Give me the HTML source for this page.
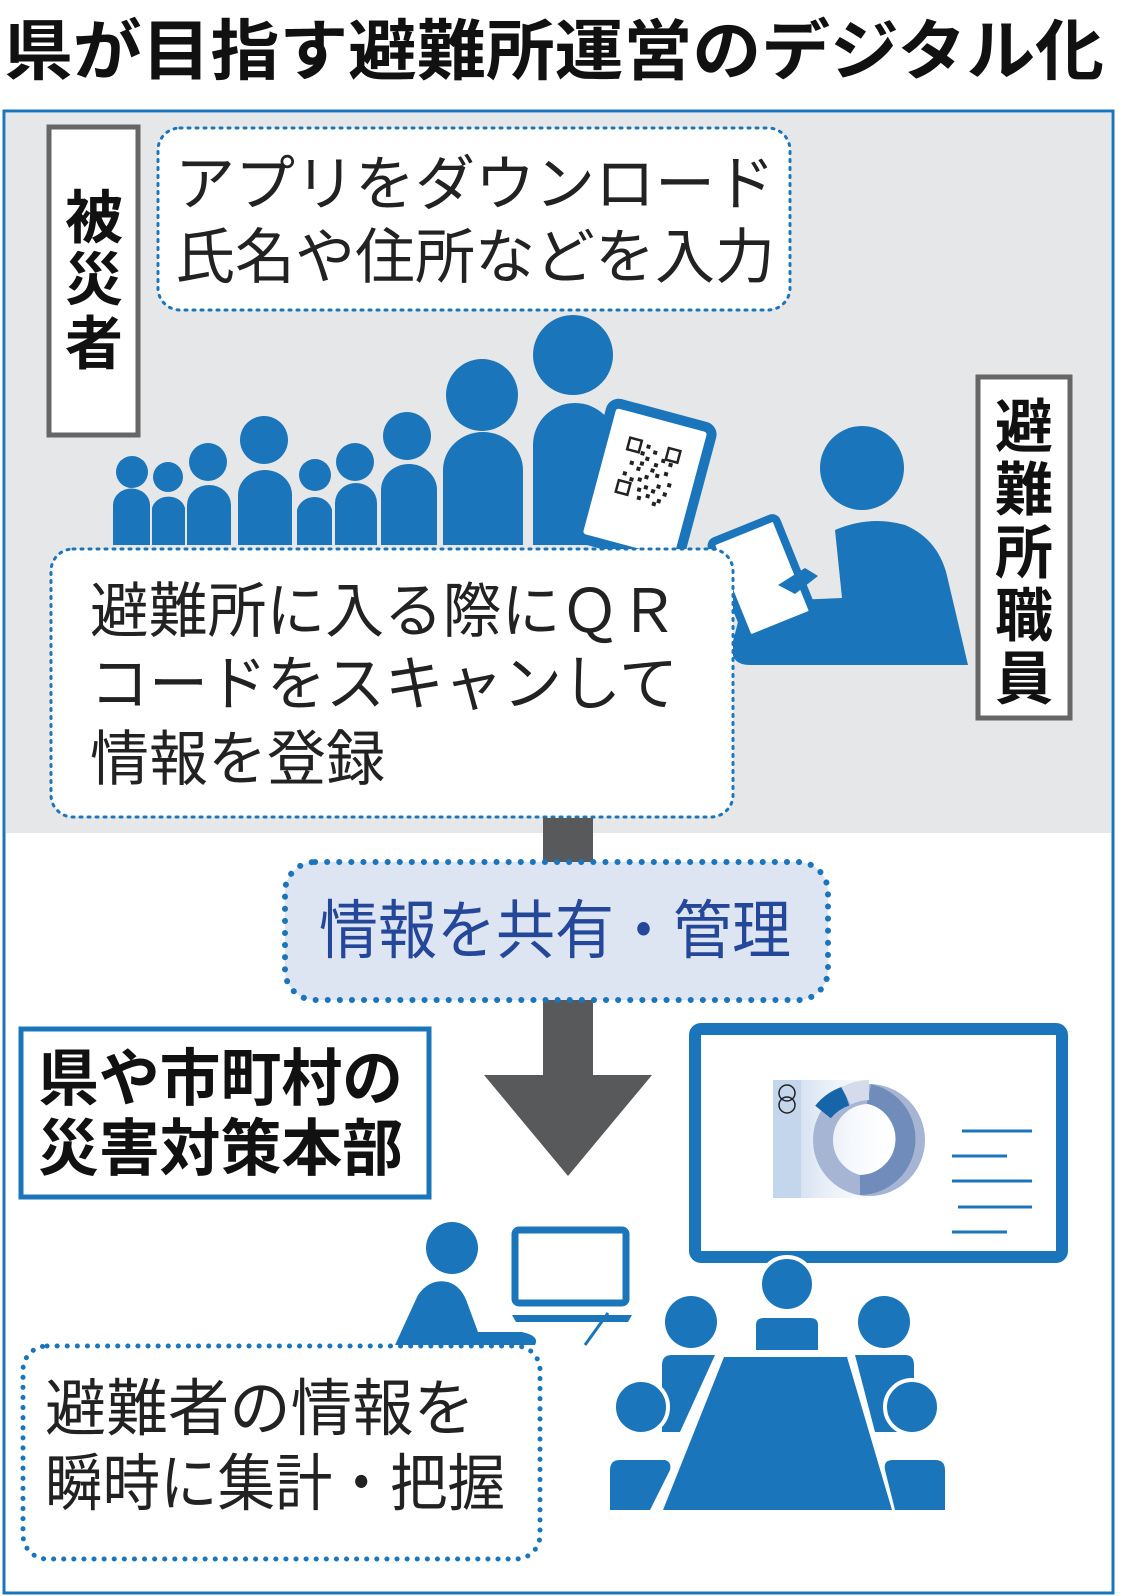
<!DOCTYPE html>
<html><head><meta charset="utf-8">
<style>
html,body{margin:0;padding:0;background:#fff;}
svg{display:block;}
text{font-family:"Liberation Sans","Noto Sans CJK JP",sans-serif;}
</style></head>
<body>
<svg width="1131" height="1596" viewBox="0 0 1131 1596" xmlns="http://www.w3.org/2000/svg">
<text x="4" y="74" font-size="66" font-weight="bold" fill="#111" textLength="1100" lengthAdjust="spacingAndGlyphs">県が目指す避難所運営のデジタル化</text>
<rect x="4" y="111" width="1109" height="1482" fill="#fff" stroke="#1b75bb" stroke-width="3"/>
<rect x="6" y="113" width="1105" height="720" fill="#e6e7e8"/>

<rect x="49" y="127" width="89" height="308" fill="#fff" stroke="#666" stroke-width="5"/>
<g font-size="58" font-weight="bold" fill="#111" text-anchor="middle">
<text x="94" y="238">被</text><text x="94" y="300">災</text><text x="94" y="364">者</text>
</g>

<rect x="158" y="128" width="632" height="182" rx="22" fill="#fff" stroke="#1b75bb" stroke-width="3" stroke-dasharray="2 6" stroke-linecap="round"/>
<g font-size="60" fill="#222">
<text x="175" y="205" textLength="600" lengthAdjust="spacingAndGlyphs">アプリをダウンロード</text>
<text x="175" y="278" textLength="600" lengthAdjust="spacingAndGlyphs">氏名や住所などを入力</text>
</g>

<g fill="#1b75bb">
<circle cx="132" cy="472" r="16"/><path d="M113 545 V505 a18 16 0 0 1 37 0 V545Z"/>
<circle cx="168" cy="477" r="15"/><path d="M152 545 V508 a17 15 0 0 1 33 0 V545Z"/>
<circle cx="208" cy="462" r="19"/><path d="M187 545 V505 a22 20 0 0 1 44 0 V545Z"/>
<circle cx="264" cy="440" r="24"/><path d="M238 545 V495 a27 25 0 0 1 54 0 V545Z"/>
<circle cx="315" cy="475" r="16"/><path d="M297 545 V510 a18 17 0 0 1 35 0 V545Z"/>
<circle cx="355" cy="462" r="19"/><path d="M335 545 V503 a21 20 0 0 1 42 0 V545Z"/>
<circle cx="407" cy="436" r="24"/><path d="M381 545 V490 a28 26 0 0 1 56 0 V545Z"/>
<circle cx="482" cy="395" r="36"/><path d="M443 545 V470 a40 38 0 0 1 80 0 V545Z"/>
<circle cx="573" cy="355" r="40"/><path d="M533 545 V445 a42 42 0 0 1 84 0 V545Z"/>
</g>
<g transform="translate(645 483) rotate(15)">
<rect x="-52" y="-70" width="104" height="140" rx="8" fill="#fff" stroke="#1b75bb" stroke-width="10"/>
<g fill="#222">
<rect x="-26" y="-40" width="12" height="12" fill="none" stroke="#222" stroke-width="2.5"/>
<rect x="14" y="-40" width="12" height="12" fill="none" stroke="#222" stroke-width="2.5"/>
<rect x="-26" y="4" width="12" height="12" fill="none" stroke="#222" stroke-width="2.5"/>
<rect x="-8" y="-38" width="4" height="4"/><rect x="0" y="-34" width="4" height="4"/><rect x="-6" y="-26" width="4" height="4"/>
<rect x="4" y="-22" width="4" height="4"/><rect x="-20" y="-18" width="4" height="4"/><rect x="-12" y="-14" width="4" height="4"/>
<rect x="8" y="-12" width="4" height="4"/><rect x="16" y="-16" width="4" height="4"/><rect x="-2" y="-8" width="4" height="4"/>
<rect x="12" y="-2" width="4" height="4"/><rect x="20" y="4" width="4" height="4"/><rect x="-6" y="6" width="4" height="4"/>
<rect x="4" y="10" width="4" height="4"/><rect x="16" y="12" width="4" height="4"/><rect x="-24" y="-6" width="4" height="4"/>
<rect x="-16" y="-2" width="4" height="4"/><rect x="0" y="2" width="4" height="4"/><rect x="22" y="-6" width="4" height="4"/>
<rect x="-10" y="-20" width="4" height="4"/><rect x="2" y="-16" width="4" height="4"/><rect x="10" y="-28" width="4" height="4"/>
<rect x="-4" y="14" width="4" height="4"/><rect x="8" y="4" width="4" height="4"/><rect x="-12" y="-30" width="4" height="4"/>
<rect x="18" y="-26" width="4" height="4"/><rect x="-8" y="-4" width="4" height="4"/><rect x="12" y="16" width="4" height="4"/>
</g>
</g>

<g fill="#1b75bb">
<circle cx="862" cy="468" r="42"/>
<path d="M835 530 Q870 515 905 525 Q940 540 948 580 L968 665 H750 Q730 665 732 645 L738 622 L795 600 L842 598 Z"/>
</g>
<g transform="translate(762 578) rotate(-22)">
<rect x="-35" y="-52" width="70" height="104" rx="5" fill="#fff" stroke="#1b75bb" stroke-width="8"/>
</g>
<path d="M778 585 L805 568 L818 576 L795 594Z" fill="#1b75bb"/>

<rect x="978" y="377" width="92" height="341" fill="#fff" stroke="#666" stroke-width="5"/>
<g font-size="58" font-weight="bold" fill="#111" text-anchor="middle">
<text x="1024" y="447">避</text><text x="1024" y="510">難</text><text x="1024" y="573">所</text><text x="1024" y="636">職</text><text x="1024" y="699">員</text>
</g>

<rect x="51" y="549" width="682" height="268" rx="22" fill="#fff" stroke="#1b75bb" stroke-width="3" stroke-dasharray="2 6" stroke-linecap="round"/>
<g font-size="60" fill="#222">
<text x="90" y="632" textLength="588" lengthAdjust="spacingAndGlyphs">避難所に入る際にＱＲ</text>
<text x="90" y="705" textLength="588" lengthAdjust="spacingAndGlyphs">コードをスキャンして</text>
<text x="90" y="780" textLength="295" lengthAdjust="spacingAndGlyphs">情報を登録</text>
</g>

<rect x="543" y="818" width="50" height="45" fill="#58595b"/>
<path d="M543 1000 H593 V1075 H652 L568 1176 L484 1075 H543Z" fill="#58595b"/>

<rect x="285" y="862" width="543" height="138" rx="30" fill="#dde4f2" stroke="#1b75bb" stroke-width="6" stroke-dasharray="0.1 12" stroke-linecap="round"/>
<text x="555" y="953" font-size="64" fill="#24479a" text-anchor="middle" textLength="472" lengthAdjust="spacingAndGlyphs">情報を共有・管理</text>

<rect x="21" y="1029" width="408" height="168" fill="#fff" stroke="#1b75bb" stroke-width="5"/>
<g font-size="62" font-weight="bold" fill="#111">
<text x="38" y="1100" textLength="365" lengthAdjust="spacingAndGlyphs">県や市町村の</text>
<text x="38" y="1170" textLength="365" lengthAdjust="spacingAndGlyphs">災害対策本部</text>
</g>

<rect x="695" y="1029" width="367" height="228" rx="6" fill="#fff" stroke="#1b75bb" stroke-width="12"/>
<defs><linearGradient id="g" x1="0" x2="1"><stop offset="0" stop-color="#c3d6ec"/><stop offset="0.3" stop-color="#dfe8f4"/><stop offset="1" stop-color="#fff" stop-opacity="0"/></linearGradient></defs>
<rect x="773" y="1080" width="130" height="118" fill="url(#g)"/>
<rect x="773" y="1080" width="28" height="118" fill="#c3d6ec"/>
<circle cx="787" cy="1093" r="8" fill="none" stroke="#222" stroke-width="1.5"/>
<circle cx="787" cy="1105" r="8" fill="none" stroke="#222" stroke-width="1.5"/>
<circle cx="869" cy="1140" r="46" fill="none" stroke="#a6b5d3" stroke-width="20"/>
<path d="M869 1094 A46 46 0 0 1 860 1185" fill="none" stroke="#6f8cba" stroke-width="20"/>
<path d="M823 1112 A50 50 0 0 1 846 1096" fill="none" stroke="#1565a8" stroke-width="20"/>
<path d="M846 1096 A50 50 0 0 1 869 1090" fill="none" stroke="#d4dbea" stroke-width="20"/>
<g stroke="#1b75bb" stroke-width="3">
<line x1="962" y1="1131" x2="1032" y2="1131"/><line x1="952" y1="1156" x2="1007" y2="1156"/>
<line x1="952" y1="1181" x2="1032" y2="1181"/><line x1="958" y1="1207" x2="1032" y2="1207"/>
<line x1="952" y1="1232" x2="1007" y2="1232"/><line x1="952" y1="1257" x2="992" y2="1257"/>
</g>

<g fill="#1b75bb">
<circle cx="787" cy="1284" r="27" stroke="#fff" stroke-width="4"/>
<path d="M756 1350 V1325 Q756 1318 764 1318 H810 Q818 1318 818 1325 V1350Z"/>
<circle cx="691" cy="1322" r="26"/>
<circle cx="884" cy="1322" r="26"/>
<path d="M662 1432 V1365 Q662 1355 672 1355 H715 L680 1432Z"/>
<path d="M875 1432 L855 1355 H905 Q914 1355 914 1365 V1432Z"/>
<path d="M724 1357 H847 L892 1510 H663Z"/>
<circle cx="641" cy="1407" r="27" stroke="#fff" stroke-width="4"/>
<circle cx="912" cy="1407" r="27" stroke="#fff" stroke-width="4"/>
<path d="M610 1510 V1470 Q610 1460 620 1460 H665 Q672 1462 670 1470 L650 1510Z"/>
<path d="M895 1510 L885 1470 Q883 1460 893 1460 H935 Q945 1460 945 1470 V1510Z"/>
</g>

<g fill="#1b75bb">
<circle cx="452" cy="1248" r="26"/>
<path d="M395 1345 L418 1295 Q430 1278 448 1282 Q462 1286 468 1305 L478 1332 H522 Q540 1336 535 1345Z"/>
</g>
<rect x="515" y="1230" width="111" height="73" rx="4" fill="#fff" stroke="#1b75bb" stroke-width="7"/>
<path d="M512 1315 H632 L628 1322 H516Z" fill="#1b75bb"/>
<line x1="608" y1="1313" x2="585" y2="1345" stroke="#1b75bb" stroke-width="3"/>

<rect x="23" y="1346" width="517" height="213" rx="24" fill="#fff" stroke="#1b75bb" stroke-width="5" stroke-dasharray="0.1 10" stroke-linecap="round"/>
<g font-size="62" fill="#222">
<text x="45" y="1430" textLength="430" lengthAdjust="spacingAndGlyphs">避難者の情報を</text>
<text x="45" y="1505" textLength="460" lengthAdjust="spacingAndGlyphs">瞬時に集計・把握</text>
</g>
</svg>
</body></html>
